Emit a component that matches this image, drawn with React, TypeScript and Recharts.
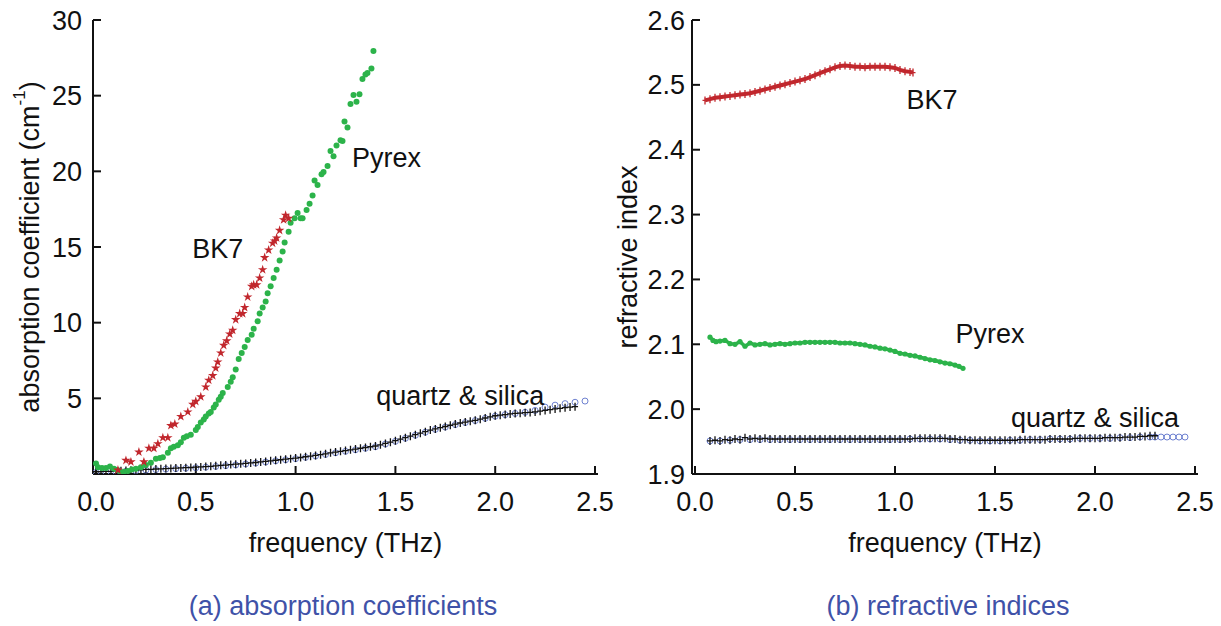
import React from "react";
import {
  ReferenceDot,
  Scatter,
  ScatterChart,
  Symbols,
  XAxis,
  YAxis,
} from "recharts";

const FONT = '"Liberation Sans", Arial, sans-serif';
const INK = "#111111";
const RED = "#c1272d";
const GREEN = "#2cb34a";
const BLUE = "#6d80d0";
const CAPTION = "#3f52a8";

const freqTicks = [0, 0.5, 1, 1.5, 2, 2.5];
const absTicks = [5, 10, 15, 20, 25, 30];
const indexTicks = [1.9, 2.0, 2.1, 2.2, 2.3, 2.4, 2.5, 2.6];

type Pt = [number, number];

// (a) absorption coefficient, cm^-1
const bk7Absorption: Pt[] = [
  [0.11, 0.26], [0.15, 0.9], [0.175, 0.8], [0.215, 1.45], [0.24, 0.8],
  [0.265, 1.7], [0.29, 1.7], [0.31, 2.0], [0.335, 2.4], [0.36, 2.4],
  [0.375, 3.2], [0.395, 3.3], [0.425, 3.8], [0.46, 4.1], [0.485, 4.6],
  [0.5, 4.8], [0.525, 5.1], [0.55, 5.75], [0.565, 6.2], [0.585, 6.5],
  [0.6, 7.0], [0.61, 7.4], [0.625, 8.0], [0.64, 8.5], [0.655, 8.8],
  [0.67, 9.25], [0.685, 9.5], [0.7, 10.2], [0.72, 10.6], [0.735, 10.6],
  [0.745, 11.0], [0.76, 11.7], [0.78, 12.4], [0.79, 12.5], [0.805, 12.5],
  [0.82, 12.95], [0.835, 13.5], [0.845, 14.3], [0.865, 14.8], [0.885, 15.25],
  [0.895, 15.4], [0.905, 15.6], [0.92, 16.1], [0.94, 16.8], [0.95, 17.1],
  [0.965, 16.9],
];

const pyrexAbsorption: Pt[] = [
  [0.0, 0.7], [0.01, 0.45], [0.03, 0.4], [0.05, 0.4], [0.07, 0.5],
  [0.09, 0.35], [0.11, 0.25], [0.125, 0.1], [0.14, 0.15], [0.16, 0.2],
  [0.18, 0.3], [0.2, 0.35], [0.225, 0.45], [0.25, 0.6], [0.275, 0.75],
  [0.3, 1.0], [0.32, 1.05], [0.335, 1.1], [0.36, 1.4], [0.375, 1.7],
  [0.39, 1.8], [0.41, 1.9], [0.425, 2.1], [0.44, 2.4], [0.455, 2.5],
  [0.475, 2.6], [0.5, 2.9], [0.51, 3.1], [0.525, 3.4], [0.54, 3.6],
  [0.55, 3.8], [0.565, 4.0], [0.575, 4.1], [0.59, 4.4], [0.6, 4.6],
  [0.615, 4.9], [0.625, 5.1], [0.635, 5.35], [0.66, 5.75], [0.675, 6.1],
  [0.685, 6.4], [0.7, 6.9], [0.715, 7.6], [0.73, 8.0], [0.745, 8.4],
  [0.76, 8.85], [0.78, 9.2], [0.79, 9.6], [0.81, 10.1], [0.82, 10.6],
  [0.835, 11.0], [0.85, 11.4], [0.86, 11.95], [0.875, 12.4], [0.89, 12.95],
  [0.905, 13.5], [0.92, 14.1], [0.935, 14.7], [0.945, 15.3], [0.965, 16.0],
  [0.975, 16.6], [0.995, 16.9], [1.01, 17.25], [1.025, 16.9], [1.035, 16.9],
  [1.055, 17.45], [1.07, 17.85], [1.085, 18.4], [1.095, 19.4], [1.11, 19.1],
  [1.13, 19.8], [1.14, 19.95], [1.16, 20.35], [1.175, 21.35], [1.19, 21.0],
  [1.205, 21.7], [1.225, 22.05], [1.235, 22.0], [1.245, 23.3], [1.26, 22.9],
  [1.275, 24.45], [1.29, 25.05], [1.305, 24.6], [1.32, 25.1], [1.335, 26.1],
  [1.35, 26.4], [1.36, 26.5], [1.38, 26.8], [1.39, 27.95],
];

const quartzAbsorption: Pt[] = [
  [0.0, 0.15], [0.025, 0.16], [0.05, 0.17], [0.075, 0.18], [0.1, 0.2],
  [0.125, 0.21], [0.15, 0.23], [0.175, 0.24], [0.2, 0.26], [0.225, 0.28],
  [0.25, 0.3], [0.275, 0.31], [0.3, 0.33], [0.325, 0.34], [0.35, 0.36],
  [0.375, 0.37], [0.4, 0.39], [0.425, 0.4], [0.45, 0.42], [0.475, 0.43],
  [0.5, 0.45], [0.525, 0.47], [0.55, 0.49], [0.575, 0.51], [0.6, 0.54],
  [0.625, 0.57], [0.65, 0.59], [0.675, 0.62], [0.7, 0.65], [0.725, 0.67],
  [0.75, 0.7], [0.775, 0.73], [0.8, 0.76], [0.825, 0.8], [0.85, 0.83],
  [0.875, 0.87], [0.9, 0.91], [0.925, 0.94], [0.95, 0.98], [0.975, 1.01],
  [1.0, 1.05], [1.025, 1.09], [1.05, 1.14], [1.075, 1.18], [1.1, 1.23],
  [1.125, 1.28], [1.15, 1.33], [1.175, 1.4], [1.2, 1.45], [1.225, 1.5],
  [1.25, 1.55], [1.275, 1.6], [1.3, 1.65], [1.325, 1.7], [1.35, 1.75],
  [1.375, 1.8], [1.4, 1.85], [1.425, 1.93], [1.45, 2.02], [1.475, 2.1],
  [1.5, 2.2], [1.525, 2.3], [1.55, 2.4], [1.575, 2.5], [1.6, 2.6],
  [1.625, 2.7], [1.65, 2.8], [1.675, 2.9], [1.7, 2.98], [1.725, 3.06],
  [1.75, 3.14], [1.775, 3.22], [1.8, 3.3], [1.825, 3.37], [1.85, 3.43],
  [1.875, 3.49], [1.9, 3.55], [1.925, 3.62], [1.95, 3.7], [1.975, 3.78],
  [2.0, 3.85], [2.025, 3.89], [2.05, 3.93], [2.075, 3.97], [2.1, 4.0],
  [2.125, 4.02], [2.15, 4.05], [2.175, 4.07], [2.2, 4.1], [2.225, 4.15],
  [2.25, 4.2], [2.275, 4.25], [2.3, 4.3], [2.325, 4.34], [2.35, 4.38],
  [2.375, 4.42], [2.4, 4.45],
];

const silicaAbsorption: Pt[] = [
  [0.0, 0.1], [0.05, 0.12], [0.1, 0.15], [0.15, 0.18], [0.2, 0.22],
  [0.25, 0.26], [0.3, 0.29], [0.35, 0.32], [0.4, 0.35], [0.45, 0.38],
  [0.5, 0.41], [0.55, 0.45], [0.6, 0.5], [0.65, 0.55], [0.7, 0.6],
  [0.75, 0.66], [0.8, 0.72], [0.85, 0.79], [0.9, 0.87], [0.95, 0.94],
  [1.0, 1.01], [1.05, 1.1], [1.1, 1.19], [1.15, 1.29], [1.2, 1.4],
  [1.25, 1.5], [1.3, 1.6], [1.35, 1.7], [1.4, 1.8], [1.45, 1.98],
  [1.5, 2.16], [1.55, 2.36], [1.6, 2.56], [1.65, 2.76], [1.7, 2.95],
  [1.75, 3.1], [1.8, 3.26], [1.85, 3.4], [1.9, 3.53], [1.95, 3.68],
  [2.0, 3.82], [2.05, 3.92], [2.1, 4.0], [2.15, 4.08], [2.2, 4.2],
  [2.25, 4.42], [2.3, 4.55], [2.35, 4.65], [2.4, 4.74], [2.45, 4.82],
];

// (b) refractive index
const bk7Index: Pt[] = [
  [0.05, 2.476], [0.075, 2.478], [0.1, 2.48], [0.125, 2.481], [0.15, 2.482],
  [0.175, 2.483], [0.2, 2.484], [0.225, 2.485], [0.25, 2.486], [0.275, 2.487],
  [0.3, 2.489], [0.325, 2.491], [0.35, 2.493], [0.375, 2.495], [0.4, 2.497],
  [0.425, 2.499], [0.45, 2.501], [0.475, 2.503], [0.5, 2.505], [0.525, 2.507],
  [0.55, 2.509], [0.575, 2.512], [0.6, 2.515], [0.625, 2.518], [0.65, 2.521],
  [0.675, 2.524], [0.7, 2.527], [0.725, 2.529], [0.75, 2.53], [0.775, 2.529],
  [0.8, 2.528], [0.825, 2.528], [0.85, 2.527], [0.875, 2.528], [0.9, 2.528],
  [0.925, 2.528], [0.95, 2.528], [0.975, 2.527], [1.0, 2.526], [1.025, 2.523],
  [1.05, 2.521], [1.075, 2.52], [1.09, 2.519],
];

const pyrexIndex: Pt[] = [
  [0.075, 2.111], [0.09, 2.106], [0.105, 2.104], [0.125, 2.105], [0.15, 2.106],
  [0.175, 2.101], [0.2, 2.1], [0.225, 2.104], [0.25, 2.097], [0.275, 2.102],
  [0.3, 2.099], [0.325, 2.1], [0.35, 2.101], [0.375, 2.099], [0.4, 2.1],
  [0.425, 2.101], [0.45, 2.1], [0.475, 2.101], [0.5, 2.102], [0.525, 2.102],
  [0.55, 2.103], [0.575, 2.103], [0.6, 2.103], [0.625, 2.103], [0.65, 2.103],
  [0.675, 2.103], [0.7, 2.103], [0.725, 2.102], [0.75, 2.102], [0.775, 2.102],
  [0.8, 2.101], [0.825, 2.1], [0.85, 2.099], [0.875, 2.097], [0.9, 2.096],
  [0.925, 2.094], [0.95, 2.093], [0.975, 2.091], [1.0, 2.089], [1.025, 2.086],
  [1.05, 2.085], [1.075, 2.083], [1.1, 2.082], [1.125, 2.08], [1.15, 2.078],
  [1.175, 2.076], [1.2, 2.075], [1.225, 2.073], [1.25, 2.071], [1.275, 2.07],
  [1.3, 2.068], [1.32, 2.066], [1.34, 2.063],
];

const quartzIndex: Pt[] = [
  [0.075, 1.951], [0.1, 1.952], [0.125, 1.951], [0.15, 1.953], [0.175, 1.952],
  [0.2, 1.954], [0.225, 1.953], [0.25, 1.956], [0.275, 1.954], [0.3, 1.955],
  [0.325, 1.954], [0.35, 1.955], [0.375, 1.954], [0.4, 1.954], [0.425, 1.954],
  [0.45, 1.954], [0.475, 1.954], [0.5, 1.954], [0.525, 1.954], [0.55, 1.954],
  [0.575, 1.954], [0.6, 1.954], [0.625, 1.954], [0.65, 1.954], [0.675, 1.954],
  [0.7, 1.954], [0.725, 1.954], [0.75, 1.954], [0.775, 1.954], [0.8, 1.954],
  [0.825, 1.954], [0.85, 1.954], [0.875, 1.954], [0.9, 1.954], [0.925, 1.954],
  [0.95, 1.954], [0.975, 1.954], [1.0, 1.954], [1.025, 1.954], [1.05, 1.954],
  [1.075, 1.954], [1.1, 1.955], [1.125, 1.955], [1.15, 1.955], [1.175, 1.955],
  [1.2, 1.955], [1.225, 1.955], [1.25, 1.955], [1.275, 1.954], [1.3, 1.954],
  [1.325, 1.953], [1.35, 1.953], [1.375, 1.952], [1.4, 1.952], [1.425, 1.952],
  [1.45, 1.952], [1.475, 1.952], [1.5, 1.952], [1.525, 1.952], [1.55, 1.952],
  [1.575, 1.952], [1.6, 1.952], [1.625, 1.953], [1.65, 1.953], [1.675, 1.953],
  [1.7, 1.953], [1.725, 1.953], [1.75, 1.953], [1.775, 1.954], [1.8, 1.954],
  [1.825, 1.954], [1.85, 1.954], [1.875, 1.954], [1.9, 1.955], [1.925, 1.955],
  [1.95, 1.955], [1.975, 1.955], [2.0, 1.955], [2.025, 1.955], [2.05, 1.956],
  [2.075, 1.956], [2.1, 1.956], [2.125, 1.956], [2.15, 1.957], [2.175, 1.957],
  [2.2, 1.957], [2.225, 1.958], [2.25, 1.958], [2.275, 1.959], [2.3, 1.959],
];

const silicaIndex: Pt[] = [
  [0.075, 1.951], [0.125, 1.951], [0.175, 1.952], [0.225, 1.953], [0.275, 1.953],
  [0.325, 1.953], [0.375, 1.953], [0.425, 1.953], [0.475, 1.953], [0.525, 1.953],
  [0.575, 1.953], [0.625, 1.953], [0.675, 1.953], [0.725, 1.953], [0.775, 1.953],
  [0.825, 1.953], [0.875, 1.953], [0.925, 1.953], [0.975, 1.953], [1.025, 1.953],
  [1.075, 1.954], [1.125, 1.954], [1.175, 1.954], [1.225, 1.954], [1.275, 1.953],
  [1.325, 1.952], [1.375, 1.952], [1.425, 1.951], [1.475, 1.951], [1.525, 1.951],
  [1.575, 1.952], [1.625, 1.952], [1.675, 1.953], [1.725, 1.953], [1.775, 1.954],
  [1.825, 1.954], [1.875, 1.954], [1.925, 1.955], [1.975, 1.955], [2.025, 1.955],
  [2.075, 1.955], [2.125, 1.956], [2.175, 1.956], [2.225, 1.957], [2.275, 1.957],
  [2.3, 1.957], [2.33, 1.957], [2.36, 1.957], [2.39, 1.957], [2.42, 1.957],
  [2.45, 1.957],
];

const rows = (pts: Pt[]) => pts.map(([f, v]) => ({ f, v }));

const plus = (color: string, w = 3, h = 4, sw = 1.3) => (p: any) => (
  <path
    d={`M${p.cx - w},${p.cy}h${2 * w}M${p.cx},${p.cy - h}v${2 * h}`}
    stroke={color}
    strokeWidth={sw}
    fill="none"
  />
);
const ring = (p: any) => (
  <circle cx={p.cx} cy={p.cy} r={3} fill="none" stroke={BLUE} strokeWidth={1} />
);
const dot = (r: number) => (p: any) => (
  <circle cx={p.cx} cy={p.cy} r={r} fill={GREEN} />
);
const star = (p: any) => (
  <Symbols cx={p.cx} cy={p.cy} type="star" size={28} fill={RED} />
);

const textStyle = { fontSize: 27, fill: INK, fontFamily: FONT };
const frame = { stroke: INK, strokeWidth: 2 };
const freqDomain: [number, number] = [-0.015, 2.515];
const fmt1 = (v: number) => v.toFixed(1);

const note = (x: number, y: number, text: string) => (
  <ReferenceDot
    key={text}
    x={x}
    y={y}
    r={0}
    fill="none"
    stroke="none"
    label={{ value: text, position: "center", ...textStyle }}
  />
);

function AbsorptionChart() {
  return (
    <ScatterChart
      width={621}
      height={626}
      margin={{ top: 20, right: 23, bottom: 74, left: 33 }}
    >
      <XAxis
        type="number"
        dataKey="f"
        domain={freqDomain}
        allowDataOverflow
        ticks={freqTicks}
        tickFormatter={fmt1}
        tick={textStyle}
        tickSize={-8}
        tickMargin={26}
        axisLine={frame}
        tickLine={frame}
        height={78}
        label={{
          value: "frequency (THz)",
          position: "insideBottom",
          offset: 0,
          ...textStyle,
        }}
      />
      <XAxis
        xAxisId="top"
        orientation="top"
        type="number"
        dataKey="f"
        domain={freqDomain}
        allowDataOverflow
        ticks={freqTicks}
        tick={false}
        tickSize={-8}
        axisLine={frame}
        tickLine={frame}
        height={0}
      />
      <YAxis
        type="number"
        dataKey="v"
        domain={[0, 30]}
        allowDataOverflow
        ticks={absTicks}
        tick={textStyle}
        tickSize={-8}
        tickMargin={19}
        axisLine={frame}
        tickLine={frame}
        width={60}
        label={{
          content: () => (
            <text
              x={30}
              y={247}
              transform="rotate(-90 30 247)"
              textAnchor="middle"
              dominantBaseline="central"
              fontSize={27}
              fill={INK}
              fontFamily={FONT}
            >
              absorption coefficient (cm
              <tspan dy={-11} fontSize={17}>
                -1
              </tspan>
              <tspan dy={11}>)</tspan>
            </text>
          ),
        }}
      />
      <YAxis
        yAxisId="right"
        orientation="right"
        type="number"
        dataKey="v"
        domain={[0, 30]}
        allowDataOverflow
        ticks={absTicks}
        tick={false}
        tickSize={-8}
        axisLine={frame}
        tickLine={frame}
        width={0}
      />
      <Scatter data={rows(silicaAbsorption)} shape={ring} isAnimationActive={false} />
      <Scatter data={rows(quartzAbsorption)} shape={plus(INK)} isAnimationActive={false} />
      <Scatter data={rows(pyrexAbsorption)} shape={dot(3)} isAnimationActive={false} />
      <Scatter data={rows(bk7Absorption)} shape={star} isAnimationActive={false} />
      {note(1.455, 20.9, "Pyrex")}
      {note(0.61, 14.9, "BK7")}
      {note(1.825, 5.2, "quartz & silica")}
    </ScatterChart>
  );
}

function IndexChart() {
  return (
    <ScatterChart
      width={621}
      height={626}
      margin={{ top: 20, right: 23, bottom: 74, left: 32 }}
    >
      <XAxis
        type="number"
        dataKey="f"
        domain={freqDomain}
        allowDataOverflow
        ticks={freqTicks}
        tickFormatter={fmt1}
        tick={textStyle}
        tickSize={-8}
        tickMargin={26}
        axisLine={frame}
        tickLine={frame}
        height={78}
        label={{
          value: "frequency (THz)",
          position: "insideBottom",
          offset: 0,
          ...textStyle,
        }}
      />
      <XAxis
        xAxisId="top"
        orientation="top"
        type="number"
        dataKey="f"
        domain={freqDomain}
        allowDataOverflow
        ticks={freqTicks}
        tick={false}
        tickSize={-8}
        axisLine={frame}
        tickLine={frame}
        height={0}
      />
      <YAxis
        type="number"
        dataKey="v"
        domain={[1.9, 2.6]}
        allowDataOverflow
        ticks={indexTicks}
        tickFormatter={fmt1}
        tick={textStyle}
        tickSize={-8}
        tickMargin={15}
        axisLine={frame}
        tickLine={frame}
        width={60}
        label={{
          content: () => (
            <text
              x={28}
              y={257}
              transform="rotate(-90 28 257)"
              textAnchor="middle"
              dominantBaseline="central"
              fontSize={27}
              fill={INK}
              fontFamily={FONT}
            >
              refractive index
            </text>
          ),
        }}
      />
      <YAxis
        yAxisId="right"
        orientation="right"
        type="number"
        dataKey="v"
        domain={[1.9, 2.6]}
        allowDataOverflow
        ticks={indexTicks}
        tick={false}
        tickSize={-8}
        axisLine={frame}
        tickLine={frame}
        width={0}
      />
      <Scatter data={rows(silicaIndex)} shape={ring} isAnimationActive={false} />
      <Scatter data={rows(quartzIndex)} shape={plus(INK)} isAnimationActive={false} />
      <Scatter
        data={rows(pyrexIndex)}
        shape={dot(2.6)}
        line={{ stroke: GREEN, strokeWidth: 3.5 }}
        isAnimationActive={false}
      />
      <Scatter
        data={rows(bk7Index)}
        shape={plus(RED, 2.5, 4)}
        line={{ stroke: RED, strokeWidth: 4 }}
        isAnimationActive={false}
      />
      {note(1.185, 2.478, "BK7")}
      {note(1.475, 2.117, "Pyrex")}
      {note(2.0, 1.988, "quartz & silica")}
    </ScatterChart>
  );
}

const captionStyle: React.CSSProperties = {
  position: "absolute",
  top: 590,
  width: 500,
  textAlign: "center",
  fontFamily: FONT,
  fontSize: 27,
  lineHeight: "32px",
  color: CAPTION,
};

export default function App() {
  return (
    <div
      style={{
        position: "absolute",
        left: 0,
        top: 0,
        width: 1221,
        height: 626,
        background: "#fff",
        overflow: "hidden",
      }}
    >
      <div style={{ position: "absolute", left: 0, top: 0 }}>
        <AbsorptionChart />
      </div>
      <div style={{ position: "absolute", left: 600, top: 0 }}>
        <IndexChart />
      </div>
      <div style={{ ...captionStyle, left: 343 - 250 }}>
        (a) absorption coefficients
      </div>
      <div style={{ ...captionStyle, left: 948 - 250 }}>
        (b) refractive indices
      </div>
    </div>
  );
}
